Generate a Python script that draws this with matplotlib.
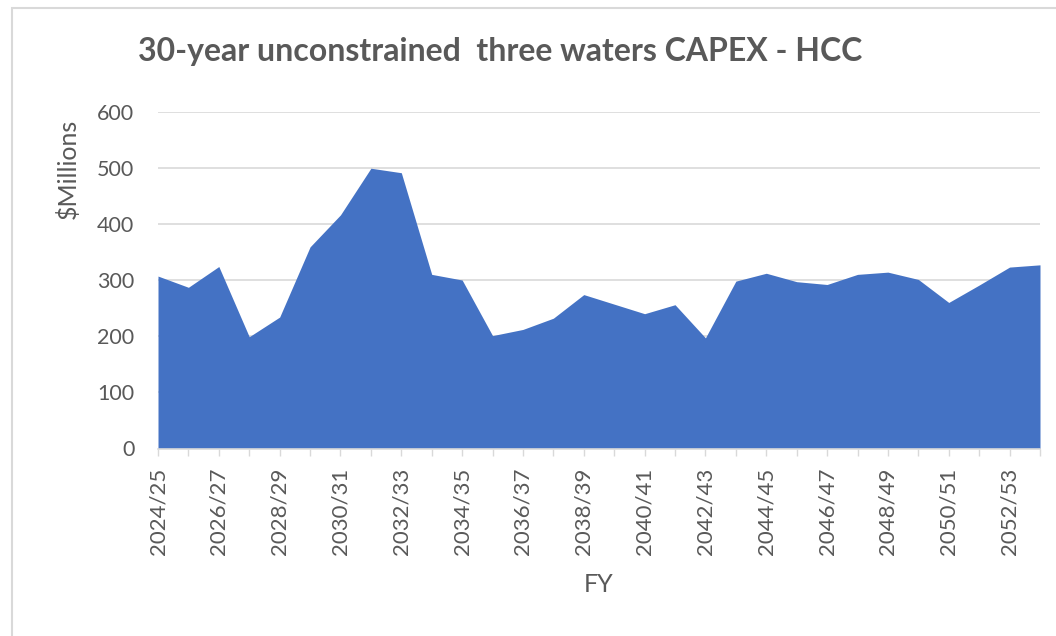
import matplotlib
matplotlib.use("Agg")
import matplotlib.pyplot as plt
from matplotlib.patches import Rectangle

plt.rcParams['font.family'] = ['Lato', 'DejaVu Sans']

# === 數據 ===
FY_LABELS = ['2024/25', '2025/26', '2026/27', '2027/28', '2028/29', '2029/30',
             '2030/31', '2031/32', '2032/33', '2033/34', '2034/35', '2035/36',
             '2036/37', '2037/38', '2038/39', '2039/40', '2040/41', '2041/42',
             '2042/43', '2043/44', '2044/45', '2045/46', '2046/47', '2047/48',
             '2048/49', '2049/50', '2050/51', '2051/52', '2052/53', '2053/54']
CAPEX = [307, 287, 324, 199, 234, 359, 416, 499, 491, 310,
         300, 201, 212, 232, 274, 257, 240, 256, 197, 298,
         312, 297, 292, 310, 314, 301, 260, 291, 323, 327]
Y_TICKS = [0, 100, 200, 300, 400, 500, 600]

TITLE = '30-year unconstrained  three waters CAPEX - HCC'
GREY = '#595959'
LIGHT = '#D9D9D9'
BLUE = '#4472C4'

fig = plt.figure(figsize=(10.56, 6.36), dpi=100)
W, H = 1056, 636

# 外框
fig.patches.append(Rectangle((12 / W, -0.1), 1.2, 1 - 8 / H + 0.1, transform=fig.transFigure,
                             fill=False, edgecolor=LIGHT, linewidth=1.5))

ax = fig.add_axes([158 / W, 1 - 448.5 / H, (1040 - 158) / W, (448.5 - 111.5) / H])
x = list(range(len(CAPEX)))
ax.fill_between(x, 0, CAPEX, color=BLUE, linewidth=0)

ax.set_xlim(0, len(CAPEX) - 1)
ax.set_ylim(0, 600)
ax.set_yticks(Y_TICKS)
ax.set_yticklabels([str(v) for v in Y_TICKS])
ax.set_xticks(x)
ax.set_xticklabels([lbl if i % 2 == 0 else '' for i, lbl in enumerate(FY_LABELS)], rotation=90)

ax.grid(axis='y', color=LIGHT, linewidth=1.2)
ax.set_axisbelow(True)
for s in ['top', 'right', 'left']:
    ax.spines[s].set_visible(False)
ax.spines['bottom'].set_color(LIGHT)
ax.spines['bottom'].set_linewidth(1.2)
ax.spines['bottom'].set_zorder(5)

ax.tick_params(axis='y', length=0, pad=17, labelsize=15.5, labelcolor=GREY)
ax.tick_params(axis='x', length=5, width=1, color=LIGHT, pad=9, labelsize=16, labelcolor=GREY)

fig.text(68 / W, 1 - 169 / H, '$Millions', rotation=90, ha='center', va='center',
         fontsize=18, color=GREY)
fig.text(599 / W, 1 - 585 / H, 'FY', ha='center', va='center', fontsize=18, color=GREY)
fig.text(138 / W, 1 - 51 / H, TITLE, ha='left', va='center', fontsize=23,
         fontweight='bold', color=GREY)

fig.savefig('out.png', dpi=100)
